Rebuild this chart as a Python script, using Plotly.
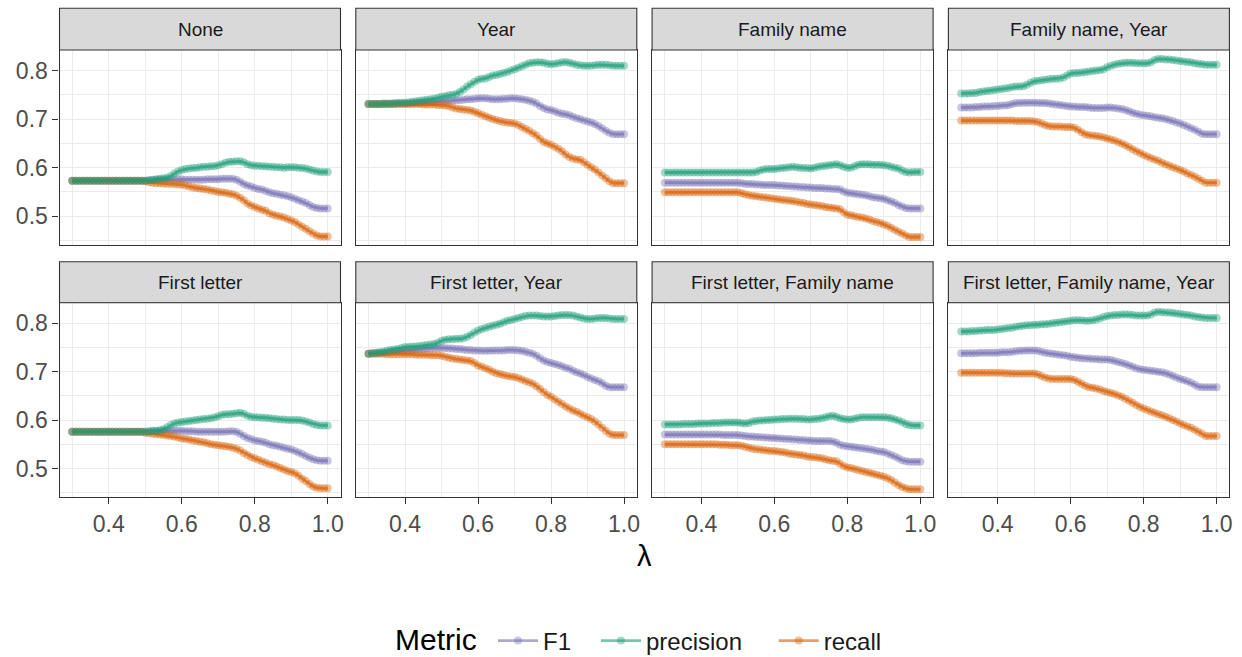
import plotly.graph_objects as go

# ---------------- data ----------------
lam = [round(0.30 + 0.01 * i, 2) for i in range(71)]

panels = ["None", "Year", "Family name", "Family name, Year",
          "First letter", "First letter, Year", "First letter, Family name",
          "First letter, Family name, Year"]
metrics = ["F1", "precision", "recall"]

# None
F1_none = ([0.573] * 20 +
    [0.573, 0.574, 0.574, 0.575, 0.575, 0.575, 0.576, 0.576, 0.576, 0.576,
     0.576, 0.575, 0.575, 0.575, 0.575, 0.575, 0.575, 0.576, 0.576, 0.576,
     0.576, 0.577, 0.577, 0.577, 0.577, 0.575, 0.571, 0.566, 0.563, 0.561,
     0.558, 0.556, 0.555, 0.552, 0.549, 0.547, 0.546, 0.544, 0.543, 0.541,
     0.539, 0.536, 0.533, 0.530, 0.527, 0.523, 0.519, 0.517, 0.516, 0.516,
     0.516])
P_none = ([0.573] * 20 +
    [0.573, 0.574, 0.575, 0.576, 0.577, 0.578, 0.579, 0.583, 0.588, 0.592,
     0.595, 0.597, 0.598, 0.599, 0.599, 0.601, 0.602, 0.602, 0.603, 0.603,
     0.605, 0.607, 0.610, 0.612, 0.612, 0.613, 0.613, 0.611, 0.607, 0.605,
     0.604, 0.604, 0.603, 0.603, 0.602, 0.602, 0.601, 0.601, 0.600, 0.601,
     0.601, 0.601, 0.600, 0.599, 0.598, 0.596, 0.594, 0.592, 0.591, 0.591,
     0.591])
R_none = ([0.573] * 20 +
    [0.572, 0.570, 0.569, 0.568, 0.568, 0.567, 0.567, 0.567, 0.566, 0.565,
     0.565, 0.563, 0.561, 0.559, 0.558, 0.557, 0.556, 0.555, 0.553, 0.552,
     0.550, 0.549, 0.548, 0.546, 0.545, 0.542, 0.538, 0.533, 0.526, 0.522,
     0.519, 0.516, 0.513, 0.511, 0.506, 0.503, 0.501, 0.499, 0.497, 0.494,
     0.491, 0.488, 0.483, 0.478, 0.474, 0.469, 0.464, 0.460, 0.458, 0.458,
     0.458])

# Year
F1_year = [0.731, 0.731, 0.731, 0.731, 0.731, 0.731, 0.731, 0.731, 0.732, 0.732,
     0.732, 0.732, 0.733, 0.733, 0.734, 0.734, 0.735, 0.735, 0.736, 0.736,
     0.737, 0.737, 0.738, 0.738, 0.739, 0.739, 0.740, 0.741, 0.741, 0.742,
     0.743, 0.743, 0.743, 0.742, 0.741, 0.741, 0.741, 0.742, 0.742, 0.743,
     0.743, 0.742, 0.741, 0.740, 0.738, 0.736, 0.732, 0.727, 0.723, 0.720,
     0.719, 0.716, 0.713, 0.711, 0.710, 0.708, 0.705, 0.702, 0.700, 0.697,
     0.695, 0.693, 0.690, 0.686, 0.681, 0.676, 0.672, 0.669, 0.669, 0.669,
     0.669]
P_year = [0.731, 0.731, 0.731, 0.731, 0.732, 0.732, 0.732, 0.733, 0.733, 0.734,
     0.734, 0.735, 0.736, 0.737, 0.738, 0.739, 0.740, 0.741, 0.742, 0.744,
     0.746, 0.747, 0.749, 0.750, 0.752, 0.756, 0.761, 0.767, 0.772, 0.777,
     0.781, 0.783, 0.784, 0.787, 0.790, 0.791, 0.793, 0.795, 0.797, 0.800,
     0.803, 0.806, 0.809, 0.812, 0.815, 0.816, 0.817, 0.817, 0.816, 0.814,
     0.813, 0.814, 0.815, 0.817, 0.818, 0.816, 0.814, 0.812, 0.811, 0.810,
     0.810, 0.810, 0.811, 0.812, 0.812, 0.812, 0.811, 0.810, 0.810, 0.810,
     0.810]
R_year = ([0.731] * 10 +
    [0.731, 0.731, 0.731, 0.731, 0.731, 0.730, 0.730, 0.730, 0.730, 0.729,
     0.729, 0.728, 0.727, 0.724, 0.722, 0.721, 0.720, 0.719, 0.718, 0.715,
     0.712, 0.709, 0.706, 0.703, 0.700, 0.698, 0.696, 0.694, 0.693, 0.692,
     0.691, 0.688, 0.684, 0.680, 0.676, 0.671, 0.666, 0.659, 0.653, 0.650,
     0.647, 0.643, 0.639, 0.634, 0.627, 0.622, 0.619, 0.617, 0.616, 0.611,
     0.606, 0.601, 0.596, 0.590, 0.584, 0.578, 0.572, 0.568, 0.568, 0.568,
     0.568])

# Family name
F1_fam = ([0.569] * 20 +
    [0.569, 0.568, 0.567, 0.566, 0.566, 0.565, 0.565, 0.564, 0.564, 0.564,
     0.564, 0.563, 0.563, 0.562, 0.562, 0.561, 0.561, 0.560, 0.560, 0.559,
     0.559, 0.558, 0.558, 0.558, 0.557, 0.557, 0.556, 0.556, 0.555, 0.551,
     0.548, 0.547, 0.546, 0.545, 0.544, 0.543, 0.541, 0.539, 0.538, 0.537,
     0.536, 0.533, 0.530, 0.527, 0.523, 0.520, 0.517, 0.516, 0.516, 0.516,
     0.516])
P_fam = ([0.590] * 20 +
    [0.590, 0.590, 0.590, 0.590, 0.590, 0.591, 0.594, 0.596, 0.597, 0.597,
     0.597, 0.598, 0.599, 0.600, 0.601, 0.602, 0.601, 0.600, 0.599, 0.599,
     0.598, 0.600, 0.602, 0.603, 0.604, 0.605, 0.606, 0.607, 0.605, 0.602,
     0.600, 0.600, 0.603, 0.606, 0.607, 0.607, 0.607, 0.606, 0.606, 0.606,
     0.605, 0.604, 0.602, 0.600, 0.598, 0.594, 0.591, 0.590, 0.591, 0.591,
     0.591])
R_fam = ([0.549] * 20 +
    [0.549, 0.547, 0.545, 0.543, 0.542, 0.541, 0.540, 0.539, 0.538, 0.537,
     0.536, 0.535, 0.534, 0.533, 0.532, 0.531, 0.530, 0.528, 0.527, 0.525,
     0.524, 0.523, 0.522, 0.521, 0.519, 0.518, 0.517, 0.516, 0.514, 0.508,
     0.503, 0.502, 0.500, 0.498, 0.497, 0.495, 0.493, 0.490, 0.488, 0.486,
     0.483, 0.480, 0.476, 0.472, 0.468, 0.464, 0.460, 0.457, 0.457, 0.457,
     0.457])

# Family name, Year
F1_famyear = [0.724, 0.724, 0.724, 0.724, 0.725, 0.725, 0.726, 0.726, 0.726, 0.727,
     0.727, 0.728, 0.728, 0.729, 0.731, 0.733, 0.733, 0.734, 0.734, 0.734,
     0.734, 0.733, 0.733, 0.733, 0.732, 0.731, 0.730, 0.729, 0.728, 0.727,
     0.726, 0.726, 0.725, 0.725, 0.725, 0.724, 0.723, 0.723, 0.723, 0.723,
     0.724, 0.724, 0.723, 0.722, 0.721, 0.719, 0.716, 0.713, 0.711, 0.709,
     0.708, 0.707, 0.706, 0.704, 0.703, 0.702, 0.700, 0.698, 0.696, 0.693,
     0.691, 0.688, 0.685, 0.681, 0.678, 0.674, 0.670, 0.669, 0.669, 0.669,
     0.669]
P_famyear = [0.753, 0.753, 0.753, 0.754, 0.754, 0.756, 0.757, 0.758, 0.759, 0.760,
     0.761, 0.762, 0.763, 0.764, 0.766, 0.767, 0.767, 0.768, 0.771, 0.775,
     0.778, 0.779, 0.780, 0.781, 0.782, 0.783, 0.783, 0.784, 0.786, 0.790,
     0.794, 0.795, 0.795, 0.796, 0.797, 0.798, 0.799, 0.800, 0.801, 0.803,
     0.807, 0.810, 0.812, 0.814, 0.815, 0.816, 0.816, 0.816, 0.815, 0.815,
     0.815, 0.815, 0.817, 0.822, 0.824, 0.824, 0.823, 0.823, 0.822, 0.821,
     0.820, 0.819, 0.818, 0.817, 0.815, 0.814, 0.813, 0.812, 0.812, 0.812,
     0.812]
R_famyear = ([0.697] * 10 +
    [0.697, 0.697, 0.697, 0.697, 0.697, 0.696, 0.696, 0.696, 0.696, 0.696,
     0.695, 0.694, 0.691, 0.688, 0.686, 0.685, 0.685, 0.685, 0.684, 0.684,
     0.684, 0.682, 0.678, 0.673, 0.669, 0.667, 0.666, 0.665, 0.664, 0.662,
     0.660, 0.658, 0.656, 0.653, 0.650, 0.646, 0.642, 0.638, 0.634, 0.630,
     0.626, 0.623, 0.620, 0.617, 0.614, 0.610, 0.607, 0.604, 0.601, 0.598,
     0.595, 0.592, 0.588, 0.585, 0.581, 0.577, 0.573, 0.569, 0.569, 0.569,
     0.569])

# First letter
F1_first = ([0.576] * 20 +
    [0.576, 0.576, 0.577, 0.577, 0.577, 0.578, 0.578, 0.578, 0.578, 0.578,
     0.578, 0.577, 0.577, 0.577, 0.576, 0.576, 0.576, 0.576, 0.576, 0.576,
     0.576, 0.576, 0.576, 0.577, 0.577, 0.576, 0.572, 0.567, 0.563, 0.561,
     0.558, 0.557, 0.555, 0.553, 0.550, 0.548, 0.547, 0.545, 0.543, 0.541,
     0.539, 0.536, 0.533, 0.530, 0.526, 0.522, 0.519, 0.517, 0.516, 0.516,
     0.516])
P_first = ([0.576] * 20 +
    [0.576, 0.577, 0.578, 0.578, 0.579, 0.581, 0.585, 0.590, 0.593, 0.595,
     0.596, 0.597, 0.598, 0.599, 0.600, 0.601, 0.602, 0.603, 0.604, 0.606,
     0.608, 0.611, 0.612, 0.612, 0.613, 0.614, 0.615, 0.613, 0.609, 0.607,
     0.606, 0.606, 0.605, 0.605, 0.604, 0.603, 0.602, 0.601, 0.601, 0.600,
     0.600, 0.600, 0.600, 0.599, 0.597, 0.595, 0.592, 0.590, 0.589, 0.589,
     0.589])
R_first = ([0.576] * 20 +
    [0.574, 0.573, 0.572, 0.571, 0.570, 0.569, 0.568, 0.567, 0.566, 0.564,
     0.562, 0.561, 0.560, 0.558, 0.557, 0.555, 0.554, 0.552, 0.550, 0.549,
     0.548, 0.547, 0.546, 0.545, 0.543, 0.541, 0.537, 0.532, 0.528, 0.524,
     0.521, 0.518, 0.515, 0.512, 0.509, 0.507, 0.504, 0.501, 0.498, 0.495,
     0.493, 0.490, 0.485, 0.479, 0.474, 0.468, 0.463, 0.460, 0.459, 0.459,
     0.459])

# First letter, Year
F1_firstyear = [0.737, 0.738, 0.738, 0.739, 0.739, 0.740, 0.741, 0.742, 0.743, 0.743,
     0.744, 0.744, 0.745, 0.746, 0.746, 0.747, 0.748, 0.748, 0.749, 0.749,
     0.749, 0.749, 0.748, 0.748, 0.747, 0.747, 0.746, 0.745, 0.745, 0.744,
     0.744, 0.743, 0.743, 0.743, 0.744, 0.744, 0.744, 0.744, 0.745, 0.745,
     0.745, 0.744, 0.743, 0.741, 0.739, 0.737, 0.733, 0.728, 0.723, 0.720,
     0.718, 0.716, 0.714, 0.711, 0.708, 0.706, 0.702, 0.699, 0.696, 0.693,
     0.689, 0.686, 0.683, 0.680, 0.676, 0.671, 0.668, 0.668, 0.668, 0.668,
     0.668]
P_firstyear = [0.737, 0.738, 0.739, 0.740, 0.741, 0.743, 0.745, 0.746, 0.747, 0.749,
     0.751, 0.751, 0.752, 0.752, 0.753, 0.754, 0.755, 0.756, 0.757, 0.760,
     0.764, 0.766, 0.767, 0.767, 0.768, 0.768, 0.769, 0.772, 0.776, 0.781,
     0.785, 0.788, 0.790, 0.793, 0.795, 0.797, 0.799, 0.802, 0.805, 0.807,
     0.809, 0.811, 0.813, 0.815, 0.816, 0.816, 0.816, 0.815, 0.814, 0.814,
     0.814, 0.815, 0.816, 0.817, 0.817, 0.817, 0.816, 0.814, 0.812, 0.810,
     0.809, 0.809, 0.810, 0.811, 0.811, 0.811, 0.810, 0.809, 0.809, 0.809,
     0.809]
R_firstyear = [0.737, 0.737, 0.737, 0.737, 0.737, 0.736, 0.736, 0.736, 0.736, 0.736,
     0.736, 0.736, 0.736, 0.735, 0.735, 0.735, 0.735, 0.734, 0.734, 0.734,
     0.733, 0.731, 0.729, 0.727, 0.726, 0.725, 0.724, 0.723, 0.722, 0.718,
     0.713, 0.710, 0.707, 0.704, 0.700, 0.697, 0.695, 0.693, 0.691, 0.690,
     0.689, 0.687, 0.684, 0.681, 0.678, 0.675, 0.670, 0.664, 0.658, 0.652,
     0.648, 0.643, 0.638, 0.633, 0.628, 0.624, 0.620, 0.617, 0.613, 0.609,
     0.606, 0.602, 0.597, 0.591, 0.584, 0.578, 0.572, 0.569, 0.569, 0.569,
     0.569]

# First letter, Family name
F1_firstfam = ([0.570] * 10 +
    [0.570, 0.570, 0.570, 0.570, 0.570, 0.570, 0.569, 0.569, 0.569, 0.569,
     0.569, 0.568, 0.567, 0.566, 0.566, 0.565, 0.565, 0.564, 0.564, 0.563,
     0.563, 0.562, 0.562, 0.561, 0.561, 0.560, 0.560, 0.559, 0.559, 0.558,
     0.558, 0.557, 0.557, 0.557, 0.557, 0.557, 0.556, 0.553, 0.549, 0.547,
     0.546, 0.545, 0.544, 0.543, 0.542, 0.541, 0.540, 0.538, 0.536, 0.535,
     0.534, 0.531, 0.528, 0.525, 0.521, 0.517, 0.515, 0.514, 0.514, 0.514,
     0.514])
P_firstfam = [0.591, 0.591, 0.591, 0.591, 0.591, 0.592, 0.592, 0.592, 0.592, 0.593,
     0.593, 0.593, 0.593, 0.594, 0.594, 0.594, 0.595, 0.595, 0.595, 0.595,
     0.595, 0.594, 0.593, 0.594, 0.597, 0.598, 0.599, 0.599, 0.600, 0.600,
     0.601, 0.601, 0.602, 0.602, 0.603, 0.603, 0.603, 0.602, 0.602, 0.601,
     0.601, 0.602, 0.603, 0.604, 0.606, 0.608, 0.609, 0.607, 0.604, 0.602,
     0.601, 0.601, 0.603, 0.605, 0.606, 0.606, 0.606, 0.606, 0.606, 0.606,
     0.606, 0.605, 0.604, 0.601, 0.599, 0.596, 0.592, 0.590, 0.589, 0.589,
     0.589]
R_firstfam = ([0.550] * 10 +
    [0.550, 0.550, 0.550, 0.550, 0.550, 0.549, 0.549, 0.549, 0.548, 0.548,
     0.548, 0.547, 0.545, 0.543, 0.541, 0.540, 0.539, 0.538, 0.537, 0.536,
     0.536, 0.535, 0.534, 0.533, 0.531, 0.530, 0.529, 0.528, 0.527, 0.525,
     0.524, 0.523, 0.522, 0.521, 0.519, 0.517, 0.516, 0.515, 0.510, 0.505,
     0.502, 0.501, 0.499, 0.497, 0.495, 0.493, 0.491, 0.489, 0.487, 0.485,
     0.483, 0.480, 0.476, 0.471, 0.466, 0.462, 0.459, 0.457, 0.457, 0.457,
     0.457])

# First letter, Family name, Year
F1_all = [0.738, 0.738, 0.738, 0.738, 0.738, 0.739, 0.739, 0.739, 0.739, 0.739,
     0.739, 0.740, 0.740, 0.740, 0.741, 0.742, 0.743, 0.743, 0.744, 0.744,
     0.744, 0.743, 0.741, 0.739, 0.738, 0.737, 0.736, 0.735, 0.734, 0.733,
     0.731, 0.730, 0.729, 0.728, 0.727, 0.727, 0.726, 0.726, 0.725, 0.725,
     0.725, 0.724, 0.722, 0.720, 0.718, 0.716, 0.713, 0.710, 0.707, 0.705,
     0.704, 0.703, 0.702, 0.701, 0.700, 0.699, 0.697, 0.694, 0.691, 0.688,
     0.685, 0.683, 0.680, 0.677, 0.673, 0.669, 0.668, 0.668, 0.668, 0.668,
     0.668]
P_all = [0.783, 0.783, 0.783, 0.784, 0.784, 0.785, 0.785, 0.786, 0.786, 0.786,
     0.787, 0.788, 0.789, 0.790, 0.791, 0.793, 0.794, 0.795, 0.796, 0.796,
     0.797, 0.797, 0.798, 0.798, 0.799, 0.800, 0.801, 0.802, 0.803, 0.804,
     0.805, 0.806, 0.806, 0.806, 0.805, 0.805, 0.806, 0.808, 0.810, 0.813,
     0.815, 0.816, 0.817, 0.817, 0.818, 0.818, 0.818, 0.817, 0.816, 0.816,
     0.816, 0.816, 0.818, 0.822, 0.824, 0.823, 0.822, 0.822, 0.821, 0.820,
     0.819, 0.818, 0.817, 0.816, 0.814, 0.813, 0.812, 0.811, 0.811, 0.811,
     0.811]
R_all = ([0.698] * 10 +
    [0.698, 0.698, 0.697, 0.697, 0.696, 0.696, 0.696, 0.696, 0.696, 0.696,
     0.696, 0.694, 0.691, 0.688, 0.686, 0.685, 0.685, 0.685, 0.685, 0.685,
     0.685, 0.683, 0.679, 0.675, 0.671, 0.668, 0.667, 0.665, 0.663, 0.660,
     0.658, 0.656, 0.654, 0.651, 0.648, 0.644, 0.640, 0.636, 0.631, 0.627,
     0.624, 0.621, 0.618, 0.615, 0.612, 0.610, 0.607, 0.604, 0.600, 0.597,
     0.593, 0.590, 0.587, 0.584, 0.580, 0.576, 0.572, 0.567, 0.567, 0.567,
     0.567])

panel_data = {
    "None": (F1_none, P_none, R_none),
    "Year": (F1_year, P_year, R_year),
    "Family name": (F1_fam, P_fam, R_fam),
    "Family name, Year": (F1_famyear, P_famyear, R_famyear),
    "First letter": (F1_first, P_first, R_first),
    "First letter, Year": (F1_firstyear, P_firstyear, R_firstyear),
    "First letter, Family name": (F1_firstfam, P_firstfam, R_firstfam),
    "First letter, Family name, Year": (F1_all, P_all, R_all),
}

x_ticks = [0.4, 0.6, 0.8, 1.0]
x_ticktext = ["0.4", "0.6", "0.8", "1.0"]
y_ticks = [0.5, 0.6, 0.7, 0.8]
y_ticktext = ["0.5", "0.6", "0.7", "0.8"]

# ---------------- style ----------------
W, H = 1242, 657
FONT = "Liberation Sans, Arial, sans-serif"
colors = {"F1": (117, 112, 179), "precision": (27, 158, 119), "recall": (217, 95, 2)}
draw_order = ["F1", "recall", "precision"]
legend_rank = {"F1": 1, "precision": 2, "recall": 3}
NB = "\u00a0"
legend_label = {"F1": "F1" + NB * 3,
                "precision": "precision" + NB * 4,
                "recall": "recall"}

col_px = [(59.5, 340.5), (355.8, 636.8), (652.1, 933.1), (948.4, 1229.4)]
row_px = [((8.3, 50.0), (50.0, 245.0)), ((261.7, 302.7), (302.7, 497.3))]

def px_x(p):
    return p / W

def px_y(p):
    return 1 - p / H

fig = go.Figure()
layout = {}
shapes = []
annotations = []

for k, name in enumerate(panels):
    r, c = divmod(k, 4)
    idx = k + 1
    xa = "x" if idx == 1 else f"x{idx}"
    ya = "y" if idx == 1 else f"y{idx}"
    (sx0, sx1) = col_px[c]
    (st, sb), (pt, pb) = row_px[r]
    vals = dict(zip(metrics, panel_data[name]))
    for m in draw_order:
        rr, gg, bb = colors[m]
        fig.add_trace(go.Scatter(
            x=lam, y=vals[m], mode="lines+markers", name=legend_label[m],
            legendgroup=m, showlegend=(k == 0), legendrank=legend_rank[m],
            line=dict(color=f"rgba({rr},{gg},{bb},0.6)", width=2.8),
            marker=dict(color=f"rgba({rr},{gg},{bb},0.4)", size=8,
                        line=dict(width=0)),
            xaxis=xa, yaxis=ya, hoverinfo="skip"))
    bottom = (r == 1)
    left = (c == 0)
    layout[f"xaxis{idx}"] = dict(
        domain=[px_x(sx0), px_x(sx1)], anchor=ya, range=[0.265, 1.035],
        tickmode="array", tickvals=x_ticks, ticktext=x_ticktext,
        showticklabels=bottom, ticks="outside" if bottom else "",
        ticklen=6, tickwidth=1.1, tickcolor="#333333",
        tickfont=dict(family=FONT, size=23, color="#4D4D4D"),
        showgrid=True, gridcolor="#EBEBEB", gridwidth=1.1,
        minor=dict(tickmode="array", tickvals=[0.3, 0.5, 0.7, 0.9],
                   showgrid=True, gridcolor="#EBEBEB", gridwidth=0.6),
        showline=True, mirror=True, linecolor="#333333", linewidth=1.1,
        zeroline=False, fixedrange=True, automargin=False)
    layout[f"yaxis{idx}"] = dict(
        domain=[px_y(pb), px_y(pt)], anchor=xa, range=[0.4405, 0.8425],
        tickmode="array", tickvals=y_ticks, ticktext=y_ticktext,
        showticklabels=left, ticks="outside" if left else "",
        ticklen=6, tickwidth=1.1, tickcolor="#333333",
        tickfont=dict(family=FONT, size=23, color="#4D4D4D"),
        showgrid=True, gridcolor="#EBEBEB", gridwidth=1.1,
        minor=dict(tickmode="array", tickvals=[0.45, 0.55, 0.65, 0.75],
                   showgrid=True, gridcolor="#EBEBEB", gridwidth=0.6),
        showline=True, mirror=True, linecolor="#333333", linewidth=1.1,
        zeroline=False, fixedrange=True, automargin=False)
    shapes.append(dict(type="rect", xref="paper", yref="paper",
                       x0=px_x(sx0), x1=px_x(sx1), y0=px_y(sb), y1=px_y(st),
                       fillcolor="#D9D9D9", line=dict(color="#333333", width=1.1)))
    annotations.append(dict(text=name, xref="paper", yref="paper",
                            x=px_x((sx0 + sx1) / 2), y=px_y((st + sb) / 2),
                            xanchor="center", yanchor="middle", showarrow=False,
                            font=dict(family=FONT, size=19, color="#1A1A1A")))

annotations.append(dict(text="λ", xref="paper", yref="paper",
                        x=px_x(644.5), y=px_y(556), xanchor="center",
                        yanchor="middle", showarrow=False,
                        font=dict(family=FONT, size=29, color="#000000")))
annotations.append(dict(text="Metric", xref="paper", yref="paper",
                        x=px_x(393), y=px_y(639), xanchor="left",
                        yanchor="middle", showarrow=False,
                        font=dict(family=FONT, size=30, color="#000000")))

fig.update_layout(
    width=W, height=H,
    margin=dict(l=0, r=0, t=0, b=0, pad=0, autoexpand=False),
    paper_bgcolor="white", plot_bgcolor="white",
    font=dict(family=FONT),
    shapes=shapes, annotations=annotations,
    legend=dict(orientation="h", x=px_x(493), xanchor="left",
                y=px_y(641), yanchor="middle",
                font=dict(family=FONT, size=24, color="#1A1A1A"),
                itemwidth=40, bgcolor="rgba(0,0,0,0)"),
    **layout)

fig.write_html("out.html")
